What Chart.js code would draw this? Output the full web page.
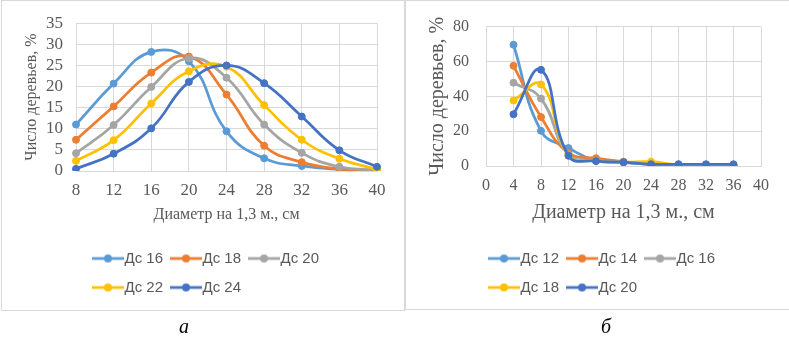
<!DOCTYPE html>
<html lang="ru">
<head>
<meta charset="utf-8">
<script src="https://cdn.jsdelivr.net/npm/chart.js@4.4.1/dist/chart.umd.min.js"></script>
<style>
html, body { margin: 0; padding: 0; background: #fff; }
body { width: 789px; height: 340px; position: relative; overflow: hidden; }
.panel { position: absolute; top: 0; border: 1px solid #d9d9d9; box-sizing: border-box; }
#panelA { left: 1px; width: 404px; height: 311px; }
#panelB { left: 405px; width: 400px; height: 310px; }
canvas { position: absolute; top: 0; }
#chartA { left: 1px; }
#chartB { left: 405px; }
.caption { position: absolute; top: 315px; font: italic 20px "Liberation Serif", serif; color: #000; }
</style>
</head>
<body>
<div class="panel" id="panelA"></div>
<div class="panel" id="panelB"></div>
<canvas id="chartA" width="403" height="340"></canvas>
<canvas id="chartB" width="384" height="340"></canvas>
<div class="caption" style="left:179px">а</div>
<div class="caption" style="left:601px">б</div>
<script>
// Left chart: distribution by diameter class for Дс 16 ... Дс 24
const diamA = ['8', '12', '16', '20', '24', '28', '32', '36', '40'];
const seriesA = ['Дс 16', 'Дс 18', 'Дс 20', 'Дс 22', 'Дс 24'];
const ds16 = [11.0, 20.7, 28.2, 26.0, 9.4, 3.0, 1.2, 0.4, 0.1];
const ds18 = [7.4, 15.3, 23.3, 27.1, 18.1, 6.0, 2.1, 0.5, 0.1];
const ds20 = [4.2, 10.9, 19.9, 26.7, 22.1, 11.0, 4.3, 1.0, 0.2];
const ds22 = [2.4, 7.3, 16.0, 23.6, 24.7, 15.6, 7.4, 2.9, 0.4];
const ds24 = [0.5, 4.1, 10.1, 21.1, 25.0, 20.8, 12.9, 4.9, 1.0];

// Right chart: Дс 12 ... Дс 20
const diamB = [4, 8, 12, 16, 20, 24, 28, 32, 36];
const seriesB = ['Дс 12', 'Дс 14', 'Дс 16', 'Дс 18', 'Дс 20'];
const b12 = [69.6, 20.2, 10.3, 3.0, 2.0, 1.0, 0.8, 0.6, 0.5];
const b14 = [57.5, 28.1, 7.5, 4.5, 2.5, 1.2, 0.8, 0.6, 0.5];
const b16 = [47.8, 38.7, 6.5, 3.2, 2.2, 1.1, 0.8, 0.6, 0.5];
const b18 = [37.6, 46.8, 6.0, 3.0, 2.2, 2.5, 0.6, 0.5, 0.5];
const b20 = [29.7, 55.2, 5.9, 2.8, 2.2, 1.0, 1.0, 1.0, 1.0];

const colors = ['#5B9BD5', '#ED7D31', '#A5A5A5', '#FFC000', '#4472C4'];
const gridColor = '#d9d9d9';
const textColor = '#595959';

// line + marker swatch, like the office legend
function legendSymbol(color) {
const c = document.createElement('canvas');
c.width = 32;
c.height = 10;
const g = c.getContext('2d');
g.strokeStyle = color;
g.lineWidth = 2.75;
g.beginPath();
g.moveTo(0, 5);
g.lineTo(32, 5);
g.stroke();
g.fillStyle = color;
g.beginPath();
g.arc(16, 5, 4, 0, Math.PI * 2);
g.fill();
return c;
}

// nudge the legend sideways after layout
const legendShift = {
id: 'legendShift',
afterLayout(chart, args, opts) {
chart.legend.left += opts.dx;
chart.legend.right += opts.dx;
}
};

function makeDatasets(names, values, toPoint) {
return names.map((name, i) => ({
label: name,
data: toPoint ? values[i].map((v, k) => ({ x: toPoint[k], y: v })) : values[i],
borderColor: colors[i],
backgroundColor: colors[i],
pointBackgroundColor: colors[i],
pointBorderColor: colors[i],
borderWidth: 2.75,
pointRadius: 3.5,
pointBorderWidth: 1,
tension: 0.45,
order: names.length - 1 - i
}));
}

function legendOptions() {
return {
position: 'bottom',
align: 'start',
fullSize: false,
labels: {
usePointStyle: true,
pointStyleWidth: 18,
padding: 14,
color: textColor,
font: { family: '"Liberation Sans", Arial, sans-serif', size: 15 },
generateLabels: chart => chart.data.datasets.map((ds, i) => ({
text: ds.label,
pointStyle: legendSymbol(ds.borderColor),
fillStyle: ds.borderColor,
strokeStyle: ds.borderColor,
lineWidth: 0,
hidden: false,
datasetIndex: i,
fontColor: textColor
}))
}
};
}

const serif = '"Liberation Serif", "Times New Roman", serif';

new Chart(document.getElementById('chartA'), {
type: 'line',
data: {
labels: diamA,
datasets: makeDatasets(seriesA, [ds16, ds18, ds20, ds22, ds24])
},
options: {
responsive: false,
animation: false,
devicePixelRatio: 1,
layout: { padding: { left: 17, top: 17, right: 27, bottom: 35 } },
plugins: {
legend: legendOptions(),
legendShift: { dx: 9 },
tooltip: { enabled: false }
},
scales: {
x: {
type: 'category',
grid: { color: gridColor, drawTicks: false },
border: { color: gridColor },
ticks: { color: textColor, padding: 9, font: { family: serif, size: 17 } },
title: { display: true, text: 'Диаметр на 1,3 м., см', color: textColor, padding: { top: 0, bottom: 13 }, font: { family: serif, size: 16 } },
afterFit: s => { s.height = 66; }
},
y: {
min: 0,
max: 35,
grid: { color: gridColor, drawTicks: false },
border: { display: false },
ticks: { stepSize: 5, autoSkip: false, color: textColor, padding: 13, font: { family: serif, size: 17 } },
title: { display: true, text: 'Число деревьев, %', color: textColor, padding: { top: 4, bottom: 0 }, font: { family: serif, size: 16 } },
afterFit: s => { s.width = 58; }
}
}
},
plugins: [legendShift]
});

new Chart(document.getElementById('chartB'), {
type: 'line',
data: {
datasets: makeDatasets(seriesB, [b12, b14, b16, b18, b20], diamB)
},
options: {
responsive: false,
animation: false,
devicePixelRatio: 1,
layout: { padding: { left: 17, top: 17, right: 28, bottom: 35 } },
plugins: {
legend: legendOptions(),
legendShift: { dx: -5 },
tooltip: { enabled: false }
},
scales: {
x: {
type: 'linear',
min: 0,
max: 40,
grid: { color: gridColor, drawTicks: false },
border: { color: gridColor },
ticks: { stepSize: 4, autoSkip: false, color: textColor, padding: 10, font: { family: serif, size: 16 } },
title: { display: true, text: 'Диаметр на 1,3 м., см', color: textColor, padding: { top: 0, bottom: 12 }, font: { family: serif, size: 20 } },
afterFit: s => { s.height = 71; }
},
y: {
min: 0,
max: 80,
grid: { color: gridColor, drawTicks: false },
border: { display: false },
ticks: { stepSize: 20, autoSkip: false, color: textColor, padding: 17, font: { family: serif, size: 16 } },
title: { display: true, text: 'Число деревьев, %', color: textColor, padding: { top: 4, bottom: 0 }, font: { family: serif, size: 20 } },
afterFit: s => { s.width = 64; }
}
}
},
plugins: [legendShift]
});
</script>
</body>
</html>
